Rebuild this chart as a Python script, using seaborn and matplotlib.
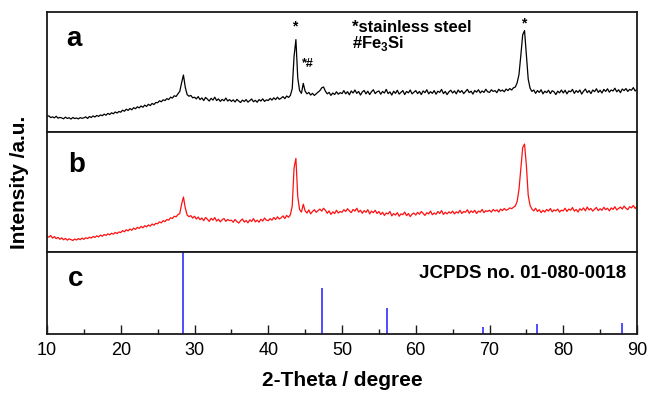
import numpy as np
import pandas as pd
import matplotlib
matplotlib.use("Agg")
import matplotlib.pyplot as plt
from matplotlib.ticker import MultipleLocator
import seaborn as sns

# ---------------- data ----------------
two_theta = np.linspace(10, 90, 321)  # 0.25 degree step

# pattern a (black), arbitrary units (per-mille of panel height)
intensity_a = [
    128, 135, 120, 126, 118, 131, 115, 122, 117, 110, 124, 113, 119, 108, 121, 112, 117, 109, 120, 114,
    118, 126, 113, 129, 121, 134, 125, 138, 130, 142, 136, 149, 140, 155, 146, 160, 152, 167, 158, 171,
    165, 182, 173, 190, 180, 196, 185, 203, 194, 210, 201, 217, 206, 224, 213, 231, 220, 238, 229, 246,
    244, 260, 252, 268, 262, 278, 270, 290, 283, 302, 296, 318, 338, 410, 475, 372, 312, 298, 305, 285,
    290, 276, 295, 270, 284, 262, 288, 274, 258, 281, 266, 290, 262, 276, 255, 272, 260, 283, 258, 270,
    255, 268, 250, 272, 258, 246, 266, 254, 270, 249, 262, 275, 252, 264, 248, 270, 258, 276, 255, 268,
    262, 280, 266, 285, 270, 290, 272, 282, 295, 278, 300, 288, 305, 360, 630, 770, 450, 345, 322, 405,
    340, 318, 330, 308, 322, 305, 318, 332, 345, 368, 375, 340, 318, 330, 305, 325, 312, 335, 315, 328,
    320, 345, 318, 336, 310, 342, 325, 350, 322, 338, 308, 334, 346, 318, 340, 312, 336, 352, 320, 335,
    342, 315, 338, 325, 355, 320, 334, 308, 340, 322, 348, 316, 330, 345, 312, 338, 326, 350, 318, 332,
    345, 320, 338, 312, 342, 328, 352, 318, 336, 322, 345, 315, 340, 330, 355, 320, 338, 312, 335, 348,
    325, 342, 318, 350, 330, 345, 320, 338, 355, 328, 340, 316, 346, 332, 352, 325, 342, 330, 356, 335,
    330, 352, 338, 345, 328, 356, 340, 350, 335, 358, 345, 362, 350, 368, 375, 410, 480, 640, 810, 845,
    640, 440, 365, 338, 350, 322, 345, 330, 352, 318, 340, 328, 348, 320, 344, 335, 312, 340, 326, 350,
    325, 348, 318, 342, 335, 355, 322, 345, 330, 350, 316, 340, 358, 328, 345, 320, 350, 336, 360, 330,
    348, 325, 355, 338, 360, 332, 350, 342, 365, 335, 352, 328, 358, 345, 362, 338, 355, 348, 370, 342,
    355,
]

# pattern b (red)
intensity_b = [
    128, 120, 134, 112, 125, 108, 118, 102, 114, 98, 110, 95, 106, 100, 92, 104, 96, 108, 99, 112,
    102, 115, 108, 120, 112, 126, 118, 131, 122, 137, 128, 142, 134, 148, 139, 153, 145, 160, 150, 164,
    158, 175, 165, 182, 172, 188, 178, 196, 185, 202, 193, 210, 198, 216, 206, 222, 212, 230, 220, 236,
    232, 248, 240, 258, 250, 268, 262, 282, 276, 295, 290, 308, 318, 395, 456, 365, 305, 292, 300, 280,
    295, 272, 288, 266, 280, 258, 285, 270, 252, 278, 262, 284, 255, 270, 248, 266, 276, 252, 268, 258,
    262, 245, 268, 250, 238, 258, 272, 246, 260, 240, 265, 252, 275, 248, 262, 245, 270, 255, 280, 262,
    258, 275, 262, 285, 268, 290, 272, 282, 298, 276, 302, 286, 308, 380, 700, 779, 460, 350, 330, 395,
    340, 322, 348, 315, 335, 350, 328, 342, 355, 338, 362, 345, 320, 340, 310, 332, 318, 345, 322, 335,
    328, 350, 335, 358, 340, 325, 352, 338, 362, 330, 345, 320, 342, 328, 350, 315, 338, 325, 345, 318,
    335, 310, 328, 302, 322, 315, 335, 298, 318, 305, 325, 295, 315, 308, 330, 300, 318, 292, 312, 322,
    305, 328, 312, 335, 318, 302, 325, 315, 338, 308, 322, 312, 335, 318, 342, 310, 328, 315, 332, 320,
    338, 315, 332, 322, 345, 318, 335, 328, 350, 320, 340, 326, 345, 318, 338, 330, 352, 325, 342, 335,
    345, 330, 352, 338, 348, 330, 355, 342, 360, 345, 352, 365, 358, 370, 380, 420, 520, 700, 870, 899,
    720, 470, 385, 355, 340, 362, 335, 350, 325, 345, 330, 352, 338, 360, 332, 348, 340, 355, 330, 346,
    340, 362, 335, 355, 345, 368, 338, 352, 330, 358, 345, 365, 340, 372, 348, 360, 338, 355, 368, 342,
    358, 345, 370, 350, 362, 340, 365, 352, 375, 348, 360, 372, 355, 380, 362, 350, 375, 365, 385, 360,
    378,
]

# reference pattern c (JCPDS no. 01-080-0018), relative intensity (%)
ref_positions = [28.44, 47.30, 56.12, 69.13, 76.38, 88.03]
ref_intensity = [100, 56, 31, 8, 11, 13]

panel_labels = ["a", "b", "c"]
x_ticks = [10, 20, 30, 40, 50, 60, 70, 80, 90]

# ---------------- style ----------------
sns.set_theme(style="white")
plt.rcParams["font.family"] = ["Liberation Sans", "DejaVu Sans"]
plt.rcParams["mathtext.fontset"] = "custom"
plt.rcParams["mathtext.rm"] = "Liberation Sans:bold"
plt.rcParams["mathtext.bf"] = "Liberation Sans:bold"
plt.rcParams["text.color"] = "black"
plt.rcParams["axes.labelcolor"] = "black"
plt.rcParams["xtick.color"] = "black"
plt.rcParams["xtick.labelcolor"] = "black"

df_a = pd.DataFrame({"two_theta": two_theta, "intensity": intensity_a})
df_b = pd.DataFrame({"two_theta": two_theta, "intensity": intensity_b})

fig = plt.figure(figsize=(6.5, 3.93), dpi=100)
gs = fig.add_gridspec(3, 1, left=47 / 650, right=637 / 650,
                      top=1 - 12 / 393, bottom=1 - 333.5 / 393,
                      hspace=0, height_ratios=[120, 119.5, 82])
ax_a = fig.add_subplot(gs[0])
ax_b = fig.add_subplot(gs[1], sharex=ax_a)
ax_c = fig.add_subplot(gs[2], sharex=ax_a)

sns.lineplot(data=df_a, x="two_theta", y="intensity", ax=ax_a,
             color="black", linewidth=0.9, estimator=None)
sns.lineplot(data=df_b, x="two_theta", y="intensity", ax=ax_b,
             color="#ff1010", linewidth=0.9, estimator=None)
ax_c.vlines(ref_positions, 0, ref_intensity, color="#4d4dff", linewidth=1.4)

ax_a.set_ylim(0, 1000)
ax_b.set_ylim(0, 1000)
ax_c.set_ylim(0, 100)
ax_a.set_xlim(10, 90)

for ax in (ax_a, ax_b, ax_c):
    ax.set_xlabel("")
    ax.set_ylabel("")
    ax.set_yticks([])
    for sp in ax.spines.values():
        sp.set_color("#1a1a1a")
        sp.set_linewidth(1.3)

for ax in (ax_a, ax_b):
    ax.tick_params(axis="x", which="both", bottom=False, labelbottom=False)

ax_c.set_xticks(x_ticks)
ax_c.xaxis.set_minor_locator(MultipleLocator(5))
ax_c.tick_params(axis="x", which="major", direction="in", length=6.5, width=1.0,
                 color="#1a1a1a", labelsize=13, labelcolor="black", pad=6, bottom=True)
ax_c.tick_params(axis="x", which="minor", direction="in", length=3.6, width=1.0,
                 color="#1a1a1a", bottom=True)

# panel letters
ax_a.text(12.6, 717, panel_labels[0], fontsize=20, fontweight="bold", va="baseline", color="black")
ax_b.text(12.9, 668, panel_labels[1], fontsize=20, fontweight="bold", va="baseline", color="black")
ax_c.text(12.8, 58, panel_labels[2], fontsize=20, fontweight="bold", va="baseline", color="black")

# annotations panel a
ax_a.text(43.6, 877, "*", fontsize=10, ha="center", va="center", fontweight="bold", color="black")
ax_a.text(45.4, 564, "*#", fontsize=9, ha="center", va="center", fontweight="bold", color="black")
ax_a.text(74.6, 908, "*", fontsize=10, ha="center", va="center", fontweight="bold", color="black")
ax_a.text(51.3, 831, "*stainless steel", fontsize=12, fontweight="bold", va="baseline", color="black")
ax_a.text(51.3, 698, r"#Fe$_{3}$Si", fontsize=12, fontweight="bold", va="baseline", color="black")

ax_c.text(88.5, 67.3, "JCPDS no. 01-080-0018", fontsize=13.5, fontweight="bold",
          ha="right", va="baseline", color="black")

fig.text(342 / 650, 1 - 381 / 393, "2-Theta / degree", fontsize=15, fontweight="bold",
         ha="center", va="center", color="black")
fig.text(20 / 650, 1 - 182 / 393, "Intensity /a.u.", fontsize=15, fontweight="bold",
         ha="center", va="center", rotation=90, color="black")

fig.savefig("out.png", dpi=100)
